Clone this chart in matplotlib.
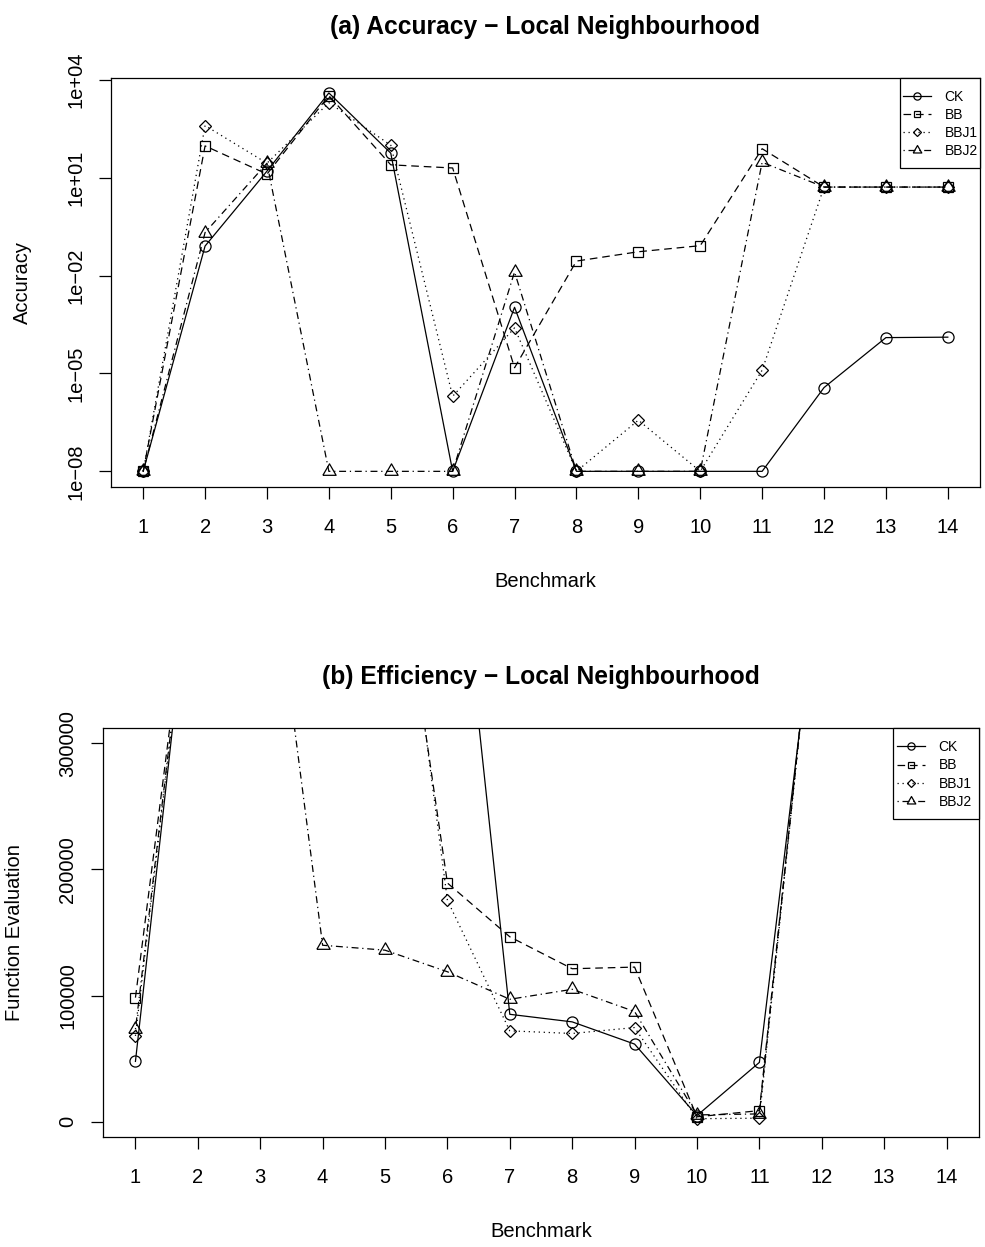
import matplotlib
matplotlib.use("Agg")
import matplotlib.pyplot as plt
from matplotlib.patches import Rectangle

plt.rcParams['font.family'] = ['Liberation Sans', 'DejaVu Sans']
plt.rcParams['lines.scale_dashes'] = False

benchmarks = list(range(1, 15))
series_names = ['CK', 'BB', 'BBJ1', 'BBJ2']

# (a) accuracy, log scale
acc_ck = [1e-8, 0.081, 16, 4000, 57, 1e-8, 1.07e-3, 1e-8, 1e-8, 1e-8, 1e-8, 3.7e-6, 1.26e-4, 1.3e-4]
acc_bb = [1e-8, 95, 13, 3300, 25, 20, 1.5e-5, 0.028, 0.054, 0.083, 78, 5.2, 5.2, 5.2]
acc_bbj1 = [1e-8, 400, 28, 2000, 100, 2e-6, 2.5e-4, 1e-8, 3.7e-7, 1e-8, 1.26e-5, 5.2, 5.2, 5.2]
acc_bbj2 = [1e-8, 0.21, 28, 1e-8, 1e-8, 1e-8, 0.013, 1e-8, 1e-8, 1e-8, 30, 5.2, 5.2, 5.2]

# (b) efficiency, number of function evaluations
eff_ck = [47900, 492000, 515000, 530000, 540000, 548000, 85200, 79200, 61600, 5000, 47100, 455000, 470000, 470000]
eff_bb = [98400, 487000, 505000, 520000, 530000, 189200, 146600, 121300, 122600, 4000, 8900, 477000, 480000, 480000]
eff_bbj1 = [68100, 490000, 500000, 515000, 554000, 175500, 72100, 70000, 74700, 2500, 2900, 477000, 480000, 480000]
eff_bbj2 = [73400, 490000, 522000, 139900, 136000, 118900, 97100, 105000, 87400, 5500, 6300, 477000, 480000, 480000]

acc_ticks = [1e-8, 1e-5, 1e-2, 1e1, 1e4]
acc_tick_labels = ['1e\u221208', '1e\u221205', '1e\u221202', '1e+01', '1e+04']
eff_ticks = [0, 100000, 200000, 300000]
eff_tick_labels = ['0', '100000', '200000', '300000']

triangle = [(-1, -0.577), (1, -0.577), (0, 1.155), (-1, -0.577)]
styles = [
    dict(linestyle='-', marker='o', markersize=8),
    dict(linestyle=(0, (5.5, 3.5)), marker='s', markersize=7),
    dict(linestyle=(0, (0.9, 2.7)), marker='D', markersize=6.5),
    dict(linestyle=(0, (0.9, 2.7, 5, 2.7)), marker=triangle, markersize=11),
]

W, H = 985, 1247
fig = plt.figure(figsize=(W / 100, H / 100), dpi=100)


def fx(x):
    return x / W


def fy(y):
    return 1 - y / H


def draw_panel(ax, ys, title, ylabel, title_y, label_x, xlabel_y, legend_box, handle_x):
    for vals, name, st in zip(ys, series_names, styles):
        ax.plot(benchmarks, vals, color='black', linewidth=0.9, label=name,
                markerfacecolor='none', markeredgecolor='black', markeredgewidth=0.9, **st)
    ax.set_xlim(0.48, 14.52)
    ax.set_xticks(benchmarks)
    ax.tick_params(direction='out', length=8.5, width=0.9, labelsize=14.5, colors='black')
    ax.tick_params(axis='x', pad=14)
    ax.tick_params(axis='y', pad=10)
    for s in ax.spines.values():
        s.set_linewidth(0.9)

    # legend: white box with black border, entries placed inside
    x0, y0, x1, y1 = legend_box
    box = Rectangle((fx(x0), fy(y1)), (x1 - x0) / W, (y1 - y0) / H, transform=fig.transFigure,
                    facecolor='white', edgecolor='black', linewidth=0.9, zorder=4, clip_on=False)
    ax.add_patch(box)
    leg = ax.legend(loc='center left', bbox_to_anchor=(fx(handle_x), fy((y0 + y1) / 2 + 1)),
                    bbox_transform=fig.transFigure, frameon=False, borderpad=0, borderaxespad=0,
                    fontsize=10, handlelength=2.0, handletextpad=1.0, labelspacing=0.3,
                    markerscale=0.65)
    leg.set_zorder(5)

    pos = ax.get_position()
    cx = (pos.x0 + pos.x1) / 2
    fig.text(cx, fy(title_y), title, fontsize=17.7, fontweight='bold', ha='center', va='baseline')
    fig.text(cx, fy(xlabel_y), 'Benchmark', fontsize=14.5, ha='center', va='baseline')
    fig.text(fx(label_x), (pos.y0 + pos.y1) / 2, ylabel, fontsize=14.5, rotation=90,
             ha='center', va='center')


ax1 = fig.add_axes([fx(111), fy(487), (980 - 111) / W, (487 - 78) / H])
ax1.set_yscale('log')
draw_panel(ax1, [acc_ck, acc_bb, acc_bbj1, acc_bbj2],
           '(a) Accuracy \u2212 Local Neighbourhood', 'Accuracy', 34, 22, 587,
           (900, 78, 980, 168), 903)
ax1.set_ylim(10 ** -8.48, 10 ** 4.06)
ax1.set_yticks(acc_ticks)
ax1.set_yticklabels(acc_tick_labels)
ax1.minorticks_off()
plt.setp(ax1.get_yticklabels(), rotation=90, va='center')

ax2 = fig.add_axes([fx(103), fy(1137), (979 - 103) / W, (1137 - 728) / H])
draw_panel(ax2, [eff_ck, eff_bb, eff_bbj1, eff_bbj2],
           '(b) Efficiency \u2212 Local Neighbourhood', 'Function Evaluation', 684, 14.5, 1237,
           (893, 728, 979, 819), 897)
ax2.set_ylim(-12000, 312000)
ax2.set_yticks(eff_ticks)
ax2.set_yticklabels(eff_tick_labels)
plt.setp(ax2.get_yticklabels(), rotation=90, va='center')

fig.savefig('out.png', dpi=100)
